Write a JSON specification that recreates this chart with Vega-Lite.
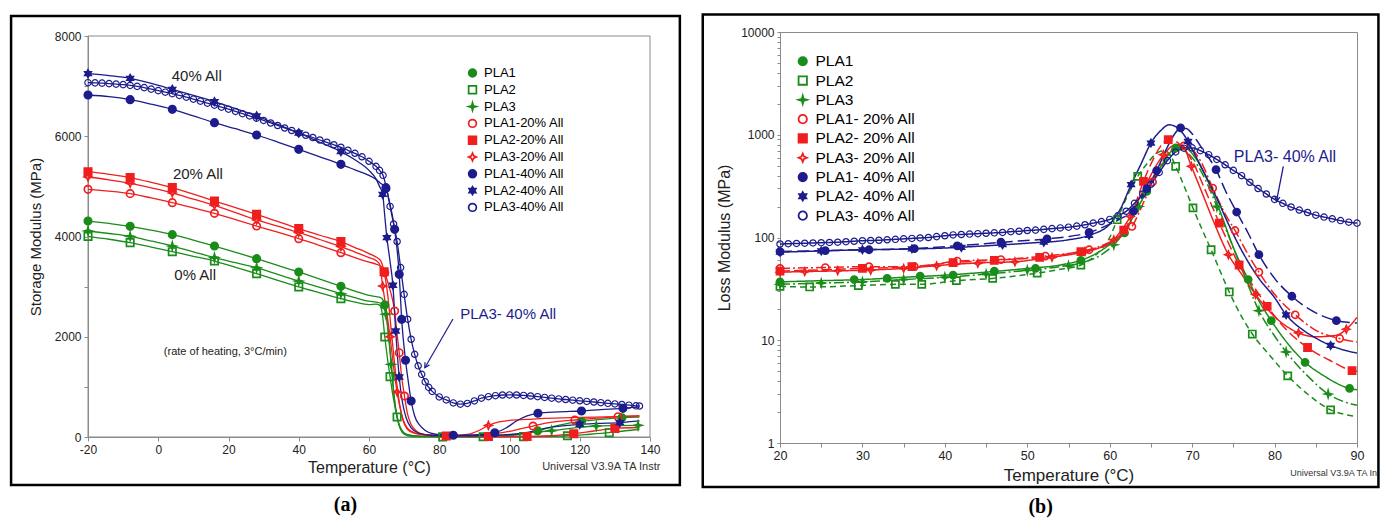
{
"$schema": "https://vega.github.io/schema/vega-lite/v6.json",
"padding": {"left": 9, "top": 12, "right": 0, "bottom": 0},
"spacing": 19,
"config": {
  "font": "Liberation Sans",
  "view": {"stroke": "#8a8a8a", "strokeWidth": 1},
  "axis": {"grid": false, "domainColor": "#8a8a8a", "tickColor": "#8a8a8a", "labelColor": "#222", "titleColor": "#222", "titleFontWeight": "normal", "labelFont": "Liberation Sans", "titleFont": "Liberation Sans", "labelOverlap": false, "labelFlush": false}
},
"datasets": {
"L": [
{"s":"PLA1","T":-20,"E":4309},{"s":"PLA1","T":-14,"E":4260},{"s":"PLA1","T":-8,"E":4203},{"s":"PLA1","T":-2,"E":4125},{"s":"PLA1","T":4,"E":4037},{"s":"PLA1","T":10,"E":3930},{"s":"PLA1","T":16,"E":3810},{"s":"PLA1","T":22,"E":3685},{"s":"PLA1","T":28,"E":3558},{"s":"PLA1","T":34,"E":3425},{"s":"PLA1","T":40,"E":3292},{"s":"PLA1","T":46,"E":3150},{"s":"PLA1","T":52,"E":3006},{"s":"PLA1","T":56,"E":2910},{"s":"PLA1","T":60,"E":2825},{"s":"PLA1","T":62,"E":2800},{"s":"PLA1","T":63.3,"E":2780},{"s":"PLA1","T":64,"E":2730},{"s":"PLA1","T":64.5,"E":2633},{"s":"PLA1","T":65.2,"E":2300},{"s":"PLA1","T":66,"E":1750},{"s":"PLA1","T":66.8,"E":1100},{"s":"PLA1","T":67.5,"E":600},{"s":"PLA1","T":68.5,"E":250},{"s":"PLA1","T":70,"E":80},{"s":"PLA1","T":72,"E":30},{"s":"PLA1","T":76,"E":12},{"s":"PLA1","T":85,"E":10},{"s":"PLA1","T":95,"E":15},{"s":"PLA1","T":100,"E":30},{"s":"PLA1","T":104,"E":65},{"s":"PLA1","T":108,"E":125},{"s":"PLA1","T":112,"E":200},{"s":"PLA1","T":116,"E":262},{"s":"PLA1","T":120.5,"E":310},{"s":"PLA1","T":126,"E":350},{"s":"PLA1","T":132,"E":385},{"s":"PLA1","T":137,"E":395},
{"s":"PLA2","T":-20,"E":4003},{"s":"PLA2","T":-14,"E":3945},{"s":"PLA2","T":-8,"E":3877},{"s":"PLA2","T":-2,"E":3790},{"s":"PLA2","T":4,"E":3697},{"s":"PLA2","T":10,"E":3605},{"s":"PLA2","T":16,"E":3511},{"s":"PLA2","T":22,"E":3385},{"s":"PLA2","T":28,"E":3259},{"s":"PLA2","T":34,"E":3125},{"s":"PLA2","T":40,"E":2993},{"s":"PLA2","T":46,"E":2875},{"s":"PLA2","T":52,"E":2760},{"s":"PLA2","T":56,"E":2690},{"s":"PLA2","T":60,"E":2640},{"s":"PLA2","T":62,"E":2650},{"s":"PLA2","T":63,"E":2630},{"s":"PLA2","T":63.8,"E":2450},{"s":"PLA2","T":64.5,"E":1995},{"s":"PLA2","T":65.2,"E":1600},{"s":"PLA2","T":66,"E":1204},{"s":"PLA2","T":67,"E":750},{"s":"PLA2","T":68,"E":399},{"s":"PLA2","T":69,"E":150},{"s":"PLA2","T":70,"E":55},{"s":"PLA2","T":72,"E":15},{"s":"PLA2","T":76,"E":5},{"s":"PLA2","T":81,"E":3},{"s":"PLA2","T":92.5,"E":5},{"s":"PLA2","T":104,"E":8},{"s":"PLA2","T":110,"E":12},{"s":"PLA2","T":116.5,"E":25},{"s":"PLA2","T":122,"E":50},{"s":"PLA2","T":128.4,"E":86},{"s":"PLA2","T":133,"E":125},{"s":"PLA2","T":137,"E":150},
{"s":"PLA3","T":-20,"E":4110},{"s":"PLA3","T":-14,"E":4060},{"s":"PLA3","T":-8,"E":4003},{"s":"PLA3","T":-2,"E":3910},{"s":"PLA3","T":4,"E":3810},{"s":"PLA3","T":10,"E":3695},{"s":"PLA3","T":16,"E":3578},{"s":"PLA3","T":22,"E":3478},{"s":"PLA3","T":28,"E":3378},{"s":"PLA3","T":34,"E":3245},{"s":"PLA3","T":40,"E":3112},{"s":"PLA3","T":46,"E":2985},{"s":"PLA3","T":52,"E":2860},{"s":"PLA3","T":56,"E":2780},{"s":"PLA3","T":60,"E":2710},{"s":"PLA3","T":62,"E":2690},{"s":"PLA3","T":63.3,"E":2670},{"s":"PLA3","T":64,"E":2600},{"s":"PLA3","T":64.8,"E":2450},{"s":"PLA3","T":65.5,"E":2050},{"s":"PLA3","T":66.3,"E":1450},{"s":"PLA3","T":67,"E":900},{"s":"PLA3","T":68,"E":400},{"s":"PLA3","T":69.5,"E":120},{"s":"PLA3","T":71,"E":40},{"s":"PLA3","T":75,"E":12},{"s":"PLA3","T":85,"E":10},{"s":"PLA3","T":95,"E":20},{"s":"PLA3","T":100,"E":40},{"s":"PLA3","T":105,"E":80},{"s":"PLA3","T":112,"E":125},{"s":"PLA3","T":118,"E":175},{"s":"PLA3","T":124.7,"E":219},{"s":"PLA3","T":130,"E":228},{"s":"PLA3","T":137,"E":233},
{"s":"PLA1-20% All","T":-20,"E":4941},{"s":"PLA1-20% All","T":-14,"E":4905},{"s":"PLA1-20% All","T":-8,"E":4855},{"s":"PLA1-20% All","T":-2,"E":4770},{"s":"PLA1-20% All","T":4,"E":4675},{"s":"PLA1-20% All","T":10,"E":4570},{"s":"PLA1-20% All","T":16,"E":4462},{"s":"PLA1-20% All","T":22,"E":4335},{"s":"PLA1-20% All","T":28,"E":4209},{"s":"PLA1-20% All","T":34,"E":4085},{"s":"PLA1-20% All","T":40,"E":3957},{"s":"PLA1-20% All","T":46,"E":3820},{"s":"PLA1-20% All","T":52,"E":3677},{"s":"PLA1-20% All","T":56,"E":3580},{"s":"PLA1-20% All","T":60,"E":3490},{"s":"PLA1-20% All","T":62,"E":3450},{"s":"PLA1-20% All","T":63.5,"E":3400},{"s":"PLA1-20% All","T":64.5,"E":3278},{"s":"PLA1-20% All","T":65.5,"E":3050},{"s":"PLA1-20% All","T":66.5,"E":2800},{"s":"PLA1-20% All","T":67.3,"E":2514},{"s":"PLA1-20% All","T":68,"E":2050},{"s":"PLA1-20% All","T":68.6,"E":1682},{"s":"PLA1-20% All","T":69.3,"E":1200},{"s":"PLA1-20% All","T":70.1,"E":818},{"s":"PLA1-20% All","T":71,"E":450},{"s":"PLA1-20% All","T":72,"E":250},{"s":"PLA1-20% All","T":73.5,"E":120},{"s":"PLA1-20% All","T":75,"E":60},{"s":"PLA1-20% All","T":78,"E":30},{"s":"PLA1-20% All","T":82,"E":25},{"s":"PLA1-20% All","T":86,"E":20},{"s":"PLA1-20% All","T":90,"E":30},{"s":"PLA1-20% All","T":95,"E":60},{"s":"PLA1-20% All","T":100,"E":110},{"s":"PLA1-20% All","T":103,"E":160},{"s":"PLA1-20% All","T":106.7,"E":219},{"s":"PLA1-20% All","T":110,"E":270},{"s":"PLA1-20% All","T":114,"E":310},{"s":"PLA1-20% All","T":118.6,"E":339},{"s":"PLA1-20% All","T":125,"E":375},{"s":"PLA1-20% All","T":130.9,"E":405},{"s":"PLA1-20% All","T":137,"E":420},
{"s":"PLA2-20% All","T":-20,"E":5293},{"s":"PLA2-20% All","T":-14,"E":5240},{"s":"PLA2-20% All","T":-8,"E":5174},{"s":"PLA2-20% All","T":-2,"E":5080},{"s":"PLA2-20% All","T":4,"E":4974},{"s":"PLA2-20% All","T":10,"E":4845},{"s":"PLA2-20% All","T":16,"E":4708},{"s":"PLA2-20% All","T":22,"E":4575},{"s":"PLA2-20% All","T":28,"E":4442},{"s":"PLA2-20% All","T":34,"E":4300},{"s":"PLA2-20% All","T":40,"E":4156},{"s":"PLA2-20% All","T":46,"E":4025},{"s":"PLA2-20% All","T":52,"E":3897},{"s":"PLA2-20% All","T":56,"E":3780},{"s":"PLA2-20% All","T":60,"E":3660},{"s":"PLA2-20% All","T":62,"E":3590},{"s":"PLA2-20% All","T":63.3,"E":3520},{"s":"PLA2-20% All","T":64.3,"E":3298},{"s":"PLA2-20% All","T":65.3,"E":2850},{"s":"PLA2-20% All","T":66.3,"E":2150},{"s":"PLA2-20% All","T":67.3,"E":1450},{"s":"PLA2-20% All","T":68.3,"E":850},{"s":"PLA2-20% All","T":69.5,"E":380},{"s":"PLA2-20% All","T":71,"E":150},{"s":"PLA2-20% All","T":73,"E":70},{"s":"PLA2-20% All","T":76,"E":40},{"s":"PLA2-20% All","T":82,"E":20},{"s":"PLA2-20% All","T":88,"E":15},{"s":"PLA2-20% All","T":94,"E":10},{"s":"PLA2-20% All","T":105,"E":10},{"s":"PLA2-20% All","T":112,"E":25},{"s":"PLA2-20% All","T":118.3,"E":66},{"s":"PLA2-20% All","T":124,"E":120},{"s":"PLA2-20% All","T":130,"E":173},{"s":"PLA2-20% All","T":137,"E":190},
{"s":"PLA3-20% All","T":-20,"E":5187},{"s":"PLA3-20% All","T":-14,"E":5130},{"s":"PLA3-20% All","T":-8,"E":5060},{"s":"PLA3-20% All","T":-2,"E":4970},{"s":"PLA3-20% All","T":4,"E":4870},{"s":"PLA3-20% All","T":10,"E":4745},{"s":"PLA3-20% All","T":16,"E":4620},{"s":"PLA3-20% All","T":22,"E":4475},{"s":"PLA3-20% All","T":28,"E":4330},{"s":"PLA3-20% All","T":34,"E":4205},{"s":"PLA3-20% All","T":40,"E":4080},{"s":"PLA3-20% All","T":46,"E":3940},{"s":"PLA3-20% All","T":52,"E":3800},{"s":"PLA3-20% All","T":56,"E":3690},{"s":"PLA3-20% All","T":60,"E":3580},{"s":"PLA3-20% All","T":62,"E":3520},{"s":"PLA3-20% All","T":63,"E":3450},{"s":"PLA3-20% All","T":63.9,"E":3012},{"s":"PLA3-20% All","T":65,"E":2500},{"s":"PLA3-20% All","T":66,"E":2000},{"s":"PLA3-20% All","T":67,"E":1400},{"s":"PLA3-20% All","T":68,"E":900},{"s":"PLA3-20% All","T":69.5,"E":400},{"s":"PLA3-20% All","T":71,"E":170},{"s":"PLA3-20% All","T":73,"E":80},{"s":"PLA3-20% All","T":76,"E":45},{"s":"PLA3-20% All","T":80,"E":35},{"s":"PLA3-20% All","T":84,"E":30},{"s":"PLA3-20% All","T":88,"E":50},{"s":"PLA3-20% All","T":91,"E":120},{"s":"PLA3-20% All","T":94,"E":230},{"s":"PLA3-20% All","T":97,"E":300},{"s":"PLA3-20% All","T":100,"E":330},{"s":"PLA3-20% All","T":105,"E":350},{"s":"PLA3-20% All","T":110,"E":370},{"s":"PLA3-20% All","T":120,"E":390},{"s":"PLA3-20% All","T":130,"E":405},{"s":"PLA3-20% All","T":137,"E":420},
{"s":"PLA1-40% All","T":-20,"E":6823},{"s":"PLA1-40% All","T":-14,"E":6790},{"s":"PLA1-40% All","T":-8,"E":6730},{"s":"PLA1-40% All","T":-2,"E":6640},{"s":"PLA1-40% All","T":4,"E":6537},{"s":"PLA1-40% All","T":10,"E":6405},{"s":"PLA1-40% All","T":16,"E":6271},{"s":"PLA1-40% All","T":22,"E":6150},{"s":"PLA1-40% All","T":28,"E":6025},{"s":"PLA1-40% All","T":34,"E":5885},{"s":"PLA1-40% All","T":40,"E":5739},{"s":"PLA1-40% All","T":46,"E":5590},{"s":"PLA1-40% All","T":52,"E":5440},{"s":"PLA1-40% All","T":56,"E":5330},{"s":"PLA1-40% All","T":60,"E":5220},{"s":"PLA1-40% All","T":62,"E":5140},{"s":"PLA1-40% All","T":63.5,"E":5050},{"s":"PLA1-40% All","T":64.8,"E":4974},{"s":"PLA1-40% All","T":65.8,"E":4700},{"s":"PLA1-40% All","T":67.3,"E":4143},{"s":"PLA1-40% All","T":68.6,"E":3245},{"s":"PLA1-40% All","T":69.3,"E":2347},{"s":"PLA1-40% All","T":70.4,"E":1530},{"s":"PLA1-40% All","T":71.2,"E":1100},{"s":"PLA1-40% All","T":72,"E":718},{"s":"PLA1-40% All","T":73,"E":420},{"s":"PLA1-40% All","T":74.5,"E":230},{"s":"PLA1-40% All","T":76,"E":130},{"s":"PLA1-40% All","T":78,"E":70},{"s":"PLA1-40% All","T":80,"E":45},{"s":"PLA1-40% All","T":84,"E":34},{"s":"PLA1-40% All","T":90,"E":40},{"s":"PLA1-40% All","T":95.8,"E":86},{"s":"PLA1-40% All","T":99,"E":180},{"s":"PLA1-40% All","T":102,"E":319},{"s":"PLA1-40% All","T":105,"E":420},{"s":"PLA1-40% All","T":108.1,"E":473},{"s":"PLA1-40% All","T":114,"E":500},{"s":"PLA1-40% All","T":120.5,"E":519},{"s":"PLA1-40% All","T":126,"E":545},{"s":"PLA1-40% All","T":132.3,"E":572},{"s":"PLA1-40% All","T":137,"E":600},
{"s":"PLA2-40% All","T":-20,"E":7249},{"s":"PLA2-40% All","T":-14,"E":7210},{"s":"PLA2-40% All","T":-8,"E":7155},{"s":"PLA2-40% All","T":-2,"E":7055},{"s":"PLA2-40% All","T":4,"E":6936},{"s":"PLA2-40% All","T":10,"E":6815},{"s":"PLA2-40% All","T":16,"E":6690},{"s":"PLA2-40% All","T":22,"E":6550},{"s":"PLA2-40% All","T":28,"E":6404},{"s":"PLA2-40% All","T":34,"E":6235},{"s":"PLA2-40% All","T":40,"E":6065},{"s":"PLA2-40% All","T":46,"E":5880},{"s":"PLA2-40% All","T":52,"E":5693},{"s":"PLA2-40% All","T":56,"E":5530},{"s":"PLA2-40% All","T":60,"E":5320},{"s":"PLA2-40% All","T":62,"E":5150},{"s":"PLA2-40% All","T":63,"E":5000},{"s":"PLA2-40% All","T":63.9,"E":4841},{"s":"PLA2-40% All","T":64.5,"E":4400},{"s":"PLA2-40% All","T":65.1,"E":3977},{"s":"PLA2-40% All","T":66,"E":3500},{"s":"PLA2-40% All","T":66.8,"E":3026},{"s":"PLA2-40% All","T":67.6,"E":2115},{"s":"PLA2-40% All","T":68.6,"E":1197},{"s":"PLA2-40% All","T":69.5,"E":700},{"s":"PLA2-40% All","T":70.5,"E":400},{"s":"PLA2-40% All","T":72,"E":180},{"s":"PLA2-40% All","T":74,"E":80},{"s":"PLA2-40% All","T":78,"E":30},{"s":"PLA2-40% All","T":85,"E":25},{"s":"PLA2-40% All","T":92,"E":30},{"s":"PLA2-40% All","T":97,"E":40},{"s":"PLA2-40% All","T":102,"E":60},{"s":"PLA2-40% All","T":106,"E":100},{"s":"PLA2-40% All","T":110,"E":170},{"s":"PLA2-40% All","T":115,"E":220},{"s":"PLA2-40% All","T":120,"E":253},{"s":"PLA2-40% All","T":125,"E":270},{"s":"PLA2-40% All","T":131.4,"E":286},{"s":"PLA2-40% All","T":137,"E":320},
{"s":"PLA3-40% All","T":-20,"E":7069},{"s":"PLA3-40% All","T":-18,"E":7065},{"s":"PLA3-40% All","T":-16,"E":7060},{"s":"PLA3-40% All","T":-14,"E":7050},{"s":"PLA3-40% All","T":-12,"E":7040},{"s":"PLA3-40% All","T":-10,"E":7030},{"s":"PLA3-40% All","T":-8,"E":7015},{"s":"PLA3-40% All","T":-6,"E":6995},{"s":"PLA3-40% All","T":-4,"E":6970},{"s":"PLA3-40% All","T":-2,"E":6940},{"s":"PLA3-40% All","T":0,"E":6910},{"s":"PLA3-40% All","T":2,"E":6880},{"s":"PLA3-40% All","T":4,"E":6850},{"s":"PLA3-40% All","T":6,"E":6815},{"s":"PLA3-40% All","T":8,"E":6780},{"s":"PLA3-40% All","T":10,"E":6740},{"s":"PLA3-40% All","T":12,"E":6700},{"s":"PLA3-40% All","T":14,"E":6660},{"s":"PLA3-40% All","T":16,"E":6620},{"s":"PLA3-40% All","T":18,"E":6580},{"s":"PLA3-40% All","T":20,"E":6540},{"s":"PLA3-40% All","T":22,"E":6495},{"s":"PLA3-40% All","T":24,"E":6450},{"s":"PLA3-40% All","T":26,"E":6405},{"s":"PLA3-40% All","T":28,"E":6360},{"s":"PLA3-40% All","T":30,"E":6315},{"s":"PLA3-40% All","T":32,"E":6265},{"s":"PLA3-40% All","T":34,"E":6215},{"s":"PLA3-40% All","T":36,"E":6165},{"s":"PLA3-40% All","T":38,"E":6115},{"s":"PLA3-40% All","T":40,"E":6065},{"s":"PLA3-40% All","T":42,"E":6020},{"s":"PLA3-40% All","T":44,"E":5975},{"s":"PLA3-40% All","T":46,"E":5925},{"s":"PLA3-40% All","T":48,"E":5880},{"s":"PLA3-40% All","T":50,"E":5830},{"s":"PLA3-40% All","T":52,"E":5780},{"s":"PLA3-40% All","T":54,"E":5720},{"s":"PLA3-40% All","T":56,"E":5660},{"s":"PLA3-40% All","T":58,"E":5590},{"s":"PLA3-40% All","T":60,"E":5500},{"s":"PLA3-40% All","T":62,"E":5400},{"s":"PLA3-40% All","T":63,"E":5320},{"s":"PLA3-40% All","T":64,"E":5220},{"s":"PLA3-40% All","T":65,"E":4950},{"s":"PLA3-40% All","T":66,"E":4600},{"s":"PLA3-40% All","T":67,"E":4250},{"s":"PLA3-40% All","T":68,"E":3900},{"s":"PLA3-40% All","T":69,"E":3380},{"s":"PLA3-40% All","T":70,"E":2846},{"s":"PLA3-40% All","T":71,"E":2350},{"s":"PLA3-40% All","T":72,"E":1950},{"s":"PLA3-40% All","T":73,"E":1650},{"s":"PLA3-40% All","T":74,"E":1420},{"s":"PLA3-40% All","T":75,"E":1250},{"s":"PLA3-40% All","T":76,"E":1100},{"s":"PLA3-40% All","T":77,"E":990},{"s":"PLA3-40% All","T":78,"E":910},{"s":"PLA3-40% All","T":80,"E":800},{"s":"PLA3-40% All","T":82,"E":740},{"s":"PLA3-40% All","T":84,"E":680},{"s":"PLA3-40% All","T":86,"E":655},{"s":"PLA3-40% All","T":88,"E":670},{"s":"PLA3-40% All","T":90,"E":720},{"s":"PLA3-40% All","T":92,"E":775},{"s":"PLA3-40% All","T":94,"E":805},{"s":"PLA3-40% All","T":96,"E":825},{"s":"PLA3-40% All","T":98,"E":838},{"s":"PLA3-40% All","T":100,"E":840},{"s":"PLA3-40% All","T":102,"E":838},{"s":"PLA3-40% All","T":104,"E":830},{"s":"PLA3-40% All","T":106,"E":818},{"s":"PLA3-40% All","T":108,"E":805},{"s":"PLA3-40% All","T":110,"E":790},{"s":"PLA3-40% All","T":112,"E":775},{"s":"PLA3-40% All","T":114,"E":760},{"s":"PLA3-40% All","T":116,"E":748},{"s":"PLA3-40% All","T":118,"E":735},{"s":"PLA3-40% All","T":120,"E":722},{"s":"PLA3-40% All","T":122,"E":710},{"s":"PLA3-40% All","T":124,"E":698},{"s":"PLA3-40% All","T":126,"E":685},{"s":"PLA3-40% All","T":128,"E":672},{"s":"PLA3-40% All","T":130,"E":660},{"s":"PLA3-40% All","T":132,"E":648},{"s":"PLA3-40% All","T":134,"E":635},{"s":"PLA3-40% All","T":136,"E":622},{"s":"PLA3-40% All","T":137,"E":618}
],
"LM": [
{"s":"PLA1","T":-20,"E":4309},{"s":"PLA1","T":-8,"E":4203},{"s":"PLA1","T":4,"E":4037},{"s":"PLA1","T":16,"E":3810},{"s":"PLA1","T":28,"E":3558},{"s":"PLA1","T":40,"E":3292},{"s":"PLA1","T":52,"E":3006},{"s":"PLA1","T":64.5,"E":2633},{"s":"PLA1","T":108,"E":125},{"s":"PLA1","T":120.5,"E":310},{"s":"PLA1","T":132,"E":385},
{"s":"PLA2","T":-20,"E":4003},{"s":"PLA2","T":-8,"E":3877},{"s":"PLA2","T":4,"E":3697},{"s":"PLA2","T":16,"E":3511},{"s":"PLA2","T":28,"E":3259},{"s":"PLA2","T":40,"E":2993},{"s":"PLA2","T":52,"E":2760},{"s":"PLA2","T":64.5,"E":1995},{"s":"PLA2","T":66,"E":1204},{"s":"PLA2","T":68,"E":399},{"s":"PLA2","T":81,"E":3},{"s":"PLA2","T":92.5,"E":5},{"s":"PLA2","T":104,"E":8},{"s":"PLA2","T":116.5,"E":25},{"s":"PLA2","T":128.4,"E":86},
{"s":"PLA3","T":-20,"E":4110},{"s":"PLA3","T":-8,"E":4003},{"s":"PLA3","T":4,"E":3810},{"s":"PLA3","T":16,"E":3578},{"s":"PLA3","T":28,"E":3378},{"s":"PLA3","T":40,"E":3112},{"s":"PLA3","T":52,"E":2860},{"s":"PLA3","T":64.8,"E":2450},{"s":"PLA3","T":66.3,"E":1450},{"s":"PLA3","T":112,"E":125},{"s":"PLA3","T":124.7,"E":219},{"s":"PLA3","T":136.6,"E":233},
{"s":"PLA1-20% All","T":-20,"E":4941},{"s":"PLA1-20% All","T":-8,"E":4855},{"s":"PLA1-20% All","T":4,"E":4675},{"s":"PLA1-20% All","T":16,"E":4462},{"s":"PLA1-20% All","T":28,"E":4209},{"s":"PLA1-20% All","T":40,"E":3957},{"s":"PLA1-20% All","T":52,"E":3677},{"s":"PLA1-20% All","T":64.5,"E":3278},{"s":"PLA1-20% All","T":67.3,"E":2514},{"s":"PLA1-20% All","T":68.6,"E":1682},{"s":"PLA1-20% All","T":70.1,"E":818},{"s":"PLA1-20% All","T":106.7,"E":219},{"s":"PLA1-20% All","T":118.6,"E":339},{"s":"PLA1-20% All","T":130.9,"E":405},
{"s":"PLA2-20% All","T":-20,"E":5293},{"s":"PLA2-20% All","T":-8,"E":5174},{"s":"PLA2-20% All","T":4,"E":4974},{"s":"PLA2-20% All","T":16,"E":4708},{"s":"PLA2-20% All","T":28,"E":4442},{"s":"PLA2-20% All","T":40,"E":4156},{"s":"PLA2-20% All","T":52,"E":3897},{"s":"PLA2-20% All","T":64.3,"E":3298},{"s":"PLA2-20% All","T":82,"E":20},{"s":"PLA2-20% All","T":94,"E":10},{"s":"PLA2-20% All","T":105,"E":10},{"s":"PLA2-20% All","T":118.3,"E":66},{"s":"PLA2-20% All","T":130,"E":173},
{"s":"PLA3-20% All","T":-20,"E":5187},{"s":"PLA3-20% All","T":-8,"E":5060},{"s":"PLA3-20% All","T":4,"E":4870},{"s":"PLA3-20% All","T":16,"E":4620},{"s":"PLA3-20% All","T":28,"E":4330},{"s":"PLA3-20% All","T":40,"E":4080},{"s":"PLA3-20% All","T":52,"E":3800},{"s":"PLA3-20% All","T":63.9,"E":3012},{"s":"PLA3-20% All","T":66,"E":2000},{"s":"PLA3-20% All","T":68,"E":900},{"s":"PLA3-20% All","T":94,"E":230},
{"s":"PLA1-40% All","T":-20,"E":6823},{"s":"PLA1-40% All","T":-8,"E":6730},{"s":"PLA1-40% All","T":4,"E":6537},{"s":"PLA1-40% All","T":16,"E":6271},{"s":"PLA1-40% All","T":28,"E":6025},{"s":"PLA1-40% All","T":40,"E":5739},{"s":"PLA1-40% All","T":52,"E":5440},{"s":"PLA1-40% All","T":64.8,"E":4974},{"s":"PLA1-40% All","T":67.3,"E":4143},{"s":"PLA1-40% All","T":68.6,"E":3245},{"s":"PLA1-40% All","T":69.3,"E":2347},{"s":"PLA1-40% All","T":70.4,"E":1530},{"s":"PLA1-40% All","T":72,"E":718},{"s":"PLA1-40% All","T":84,"E":34},{"s":"PLA1-40% All","T":95.8,"E":86},{"s":"PLA1-40% All","T":108.1,"E":473},{"s":"PLA1-40% All","T":120.5,"E":519},{"s":"PLA1-40% All","T":132.3,"E":572},
{"s":"PLA2-40% All","T":-20,"E":7249},{"s":"PLA2-40% All","T":-8,"E":7155},{"s":"PLA2-40% All","T":4,"E":6936},{"s":"PLA2-40% All","T":16,"E":6690},{"s":"PLA2-40% All","T":28,"E":6404},{"s":"PLA2-40% All","T":40,"E":6065},{"s":"PLA2-40% All","T":52,"E":5693},{"s":"PLA2-40% All","T":63.9,"E":4841},{"s":"PLA2-40% All","T":65.1,"E":3977},{"s":"PLA2-40% All","T":66.8,"E":3026},{"s":"PLA2-40% All","T":67.6,"E":2115},{"s":"PLA2-40% All","T":68.6,"E":1197},{"s":"PLA2-40% All","T":120,"E":253},{"s":"PLA2-40% All","T":131.4,"E":286}
],
"R": [
{"s":"PLA1","T":20,"E":37},{"s":"PLA1","T":25,"E":38},{"s":"PLA1","T":30,"E":39},{"s":"PLA1","T":35,"E":41},{"s":"PLA1","T":40,"E":43},{"s":"PLA1","T":45,"E":46},{"s":"PLA1","T":50,"E":50},{"s":"PLA1","T":54,"E":54},{"s":"PLA1","T":57,"E":62},{"s":"PLA1","T":59,"E":75},{"s":"PLA1","T":60.5,"E":92},{"s":"PLA1","T":61.8,"E":111},{"s":"PLA1","T":63,"E":170},{"s":"PLA1","T":64.5,"E":281},{"s":"PLA1","T":66,"E":460},{"s":"PLA1","T":67,"E":620},{"s":"PLA1","T":68,"E":743},{"s":"PLA1","T":68.7,"E":760},{"s":"PLA1","T":69.5,"E":720},{"s":"PLA1","T":70.5,"E":580},{"s":"PLA1","T":72,"E":340},{"s":"PLA1","T":73.5,"E":170},{"s":"PLA1","T":75,"E":80},{"s":"PLA1","T":76.8,"E":39},{"s":"PLA1","T":78,"E":25},{"s":"PLA1","T":79.6,"E":15.5},{"s":"PLA1","T":81.5,"E":9.5},{"s":"PLA1","T":83.7,"E":6.1},{"s":"PLA1","T":86,"E":4.5},{"s":"PLA1","T":89.1,"E":3.4},{"s":"PLA1","T":90,"E":3.3},
{"s":"PLA2","T":20,"E":33.5},{"s":"PLA2","T":23.6,"E":33},{"s":"PLA2","T":29.5,"E":34},{"s":"PLA2","T":34,"E":35},{"s":"PLA2","T":37.2,"E":35},{"s":"PLA2","T":41.4,"E":38},{"s":"PLA2","T":45.8,"E":40},{"s":"PLA2","T":51.2,"E":45},{"s":"PLA2","T":54,"E":49},{"s":"PLA2","T":56.5,"E":54},{"s":"PLA2","T":58.5,"E":70},{"s":"PLA2","T":60,"E":100},{"s":"PLA2","T":60.9,"E":149},{"s":"PLA2","T":62,"E":240},{"s":"PLA2","T":63.4,"E":394},{"s":"PLA2","T":64.5,"E":520},{"s":"PLA2","T":65.5,"E":640},{"s":"PLA2","T":66.6,"E":701},{"s":"PLA2","T":67.3,"E":640},{"s":"PLA2","T":68,"E":493},{"s":"PLA2","T":69,"E":320},{"s":"PLA2","T":70.1,"E":194},{"s":"PLA2","T":71.2,"E":120},{"s":"PLA2","T":72.3,"E":76},{"s":"PLA2","T":73.5,"E":45},{"s":"PLA2","T":74.5,"E":29.5},{"s":"PLA2","T":76,"E":17},{"s":"PLA2","T":77.3,"E":11.5},{"s":"PLA2","T":79.5,"E":7},{"s":"PLA2","T":81.6,"E":4.5},{"s":"PLA2","T":84,"E":3},{"s":"PLA2","T":86.8,"E":2.1},{"s":"PLA2","T":88.5,"E":1.9},{"s":"PLA2","T":90,"E":1.8},
{"s":"PLA3","T":20,"E":35},{"s":"PLA3","T":25,"E":36},{"s":"PLA3","T":30,"E":37},{"s":"PLA3","T":35,"E":39},{"s":"PLA3","T":40,"E":41},{"s":"PLA3","T":45,"E":44},{"s":"PLA3","T":50,"E":48},{"s":"PLA3","T":54,"E":52},{"s":"PLA3","T":57,"E":58},{"s":"PLA3","T":59,"E":68},{"s":"PLA3","T":60.5,"E":85},{"s":"PLA3","T":62,"E":120},{"s":"PLA3","T":63.5,"E":200},{"s":"PLA3","T":65,"E":330},{"s":"PLA3","T":66.5,"E":520},{"s":"PLA3","T":67.5,"E":650},{"s":"PLA3","T":68.3,"E":720},{"s":"PLA3","T":69,"E":700},{"s":"PLA3","T":70,"E":600},{"s":"PLA3","T":71.5,"E":380},{"s":"PLA3","T":73,"E":200},{"s":"PLA3","T":74.5,"E":100},{"s":"PLA3","T":76,"E":50},{"s":"PLA3","T":78.1,"E":19.4},{"s":"PLA3","T":80,"E":11},{"s":"PLA3","T":81.4,"E":7.7},{"s":"PLA3","T":84,"E":4.5},{"s":"PLA3","T":86.5,"E":3.0},{"s":"PLA3","T":88,"E":2.6},{"s":"PLA3","T":90,"E":2.33},
{"s":"PLA1- 20% All","T":20,"E":50},{"s":"PLA1- 20% All","T":25,"E":51},{"s":"PLA1- 20% All","T":30.8,"E":52},{"s":"PLA1- 20% All","T":36.3,"E":52},{"s":"PLA1- 20% All","T":41.5,"E":59},{"s":"PLA1- 20% All","T":46.8,"E":61},{"s":"PLA1- 20% All","T":52.2,"E":66},{"s":"PLA1- 20% All","T":55,"E":70},{"s":"PLA1- 20% All","T":57.5,"E":76},{"s":"PLA1- 20% All","T":60,"E":90},{"s":"PLA1- 20% All","T":61.5,"E":105},{"s":"PLA1- 20% All","T":62.7,"E":128},{"s":"PLA1- 20% All","T":64,"E":210},{"s":"PLA1- 20% All","T":65.2,"E":347},{"s":"PLA1- 20% All","T":66,"E":480},{"s":"PLA1- 20% All","T":67,"E":640},{"s":"PLA1- 20% All","T":68.2,"E":770},{"s":"PLA1- 20% All","T":69,"E":780},{"s":"PLA1- 20% All","T":70,"E":720},{"s":"PLA1- 20% All","T":71,"E":560},{"s":"PLA1- 20% All","T":72.5,"E":303},{"s":"PLA1- 20% All","T":74,"E":170},{"s":"PLA1- 20% All","T":75.2,"E":117},{"s":"PLA1- 20% All","T":76.5,"E":75},{"s":"PLA1- 20% All","T":78.1,"E":46},{"s":"PLA1- 20% All","T":80,"E":28},{"s":"PLA1- 20% All","T":82.5,"E":17.7},{"s":"PLA1- 20% All","T":85,"E":12.5},{"s":"PLA1- 20% All","T":87.9,"E":10.4},{"s":"PLA1- 20% All","T":90,"E":9.6},
{"s":"PLA2- 20% All","T":20,"E":47},{"s":"PLA2- 20% All","T":25,"E":48.5},{"s":"PLA2- 20% All","T":30,"E":50},{"s":"PLA2- 20% All","T":36,"E":52},{"s":"PLA2- 20% All","T":41,"E":57},{"s":"PLA2- 20% All","T":46,"E":60},{"s":"PLA2- 20% All","T":51.5,"E":64},{"s":"PLA2- 20% All","T":56.5,"E":73},{"s":"PLA2- 20% All","T":59,"E":82},{"s":"PLA2- 20% All","T":60.5,"E":95},{"s":"PLA2- 20% All","T":62,"E":125},{"s":"PLA2- 20% All","T":63,"E":200},{"s":"PLA2- 20% All","T":64.1,"E":352},{"s":"PLA2- 20% All","T":65.2,"E":560},{"s":"PLA2- 20% All","T":66.2,"E":780},{"s":"PLA2- 20% All","T":67.1,"E":896},{"s":"PLA2- 20% All","T":67.8,"E":880},{"s":"PLA2- 20% All","T":68.8,"E":760},{"s":"PLA2- 20% All","T":70,"E":560},{"s":"PLA2- 20% All","T":71.5,"E":300},{"s":"PLA2- 20% All","T":73.3,"E":138},{"s":"PLA2- 20% All","T":74.5,"E":85},{"s":"PLA2- 20% All","T":75.7,"E":54},{"s":"PLA2- 20% All","T":77.5,"E":33},{"s":"PLA2- 20% All","T":79.1,"E":21.4},{"s":"PLA2- 20% All","T":81.5,"E":12.5},{"s":"PLA2- 20% All","T":84,"E":8.5},{"s":"PLA2- 20% All","T":87,"E":6.2},{"s":"PLA2- 20% All","T":89.4,"E":5.06},{"s":"PLA2- 20% All","T":90,"E":5},
{"s":"PLA3- 20% All","T":20,"E":46},{"s":"PLA3- 20% All","T":25,"E":47},{"s":"PLA3- 20% All","T":30,"E":48},{"s":"PLA3- 20% All","T":35,"E":50},{"s":"PLA3- 20% All","T":40,"E":54},{"s":"PLA3- 20% All","T":45,"E":57},{"s":"PLA3- 20% All","T":48.5,"E":58},{"s":"PLA3- 20% All","T":52,"E":63},{"s":"PLA3- 20% All","T":56,"E":70},{"s":"PLA3- 20% All","T":58.5,"E":78},{"s":"PLA3- 20% All","T":60,"E":88},{"s":"PLA3- 20% All","T":61.5,"E":120},{"s":"PLA3- 20% All","T":62.5,"E":160},{"s":"PLA3- 20% All","T":64,"E":280},{"s":"PLA3- 20% All","T":65.5,"E":480},{"s":"PLA3- 20% All","T":66.8,"E":680},{"s":"PLA3- 20% All","T":68,"E":800},{"s":"PLA3- 20% All","T":68.8,"E":790},{"s":"PLA3- 20% All","T":69.9,"E":493},{"s":"PLA3- 20% All","T":71,"E":300},{"s":"PLA3- 20% All","T":72.5,"E":150},{"s":"PLA3- 20% All","T":74.4,"E":68},{"s":"PLA3- 20% All","T":76,"E":44},{"s":"PLA3- 20% All","T":77.7,"E":27.8},{"s":"PLA3- 20% All","T":80,"E":17},{"s":"PLA3- 20% All","T":82.9,"E":11.8},{"s":"PLA3- 20% All","T":85,"E":10.8},{"s":"PLA3- 20% All","T":87.5,"E":11.2},{"s":"PLA3- 20% All","T":88.7,"E":12.8},{"s":"PLA3- 20% All","T":90,"E":16.7},
{"s":"PLA1- 40% All","T":20,"E":73},{"s":"PLA1- 40% All","T":25,"E":74.5},{"s":"PLA1- 40% All","T":30.5,"E":76},{"s":"PLA1- 40% All","T":36,"E":78},{"s":"PLA1- 40% All","T":41.5,"E":83},{"s":"PLA1- 40% All","T":47,"E":90},{"s":"PLA1- 40% All","T":52.4,"E":97},{"s":"PLA1- 40% All","T":55,"E":102},{"s":"PLA1- 40% All","T":57.5,"E":112},{"s":"PLA1- 40% All","T":60,"E":135},{"s":"PLA1- 40% All","T":61.5,"E":155},{"s":"PLA1- 40% All","T":62.9,"E":180},{"s":"PLA1- 40% All","T":63.7,"E":230},{"s":"PLA1- 40% All","T":64.5,"E":299},{"s":"PLA1- 40% All","T":65.7,"E":448},{"s":"PLA1- 40% All","T":67,"E":760},{"s":"PLA1- 40% All","T":68,"E":1050},{"s":"PLA1- 40% All","T":68.6,"E":1164},{"s":"PLA1- 40% All","T":69.3,"E":1150},{"s":"PLA1- 40% All","T":70,"E":1020},{"s":"PLA1- 40% All","T":71,"E":780},{"s":"PLA1- 40% All","T":72,"E":600},{"s":"PLA1- 40% All","T":72.9,"E":457},{"s":"PLA1- 40% All","T":74,"E":290},{"s":"PLA1- 40% All","T":75.4,"E":177},{"s":"PLA1- 40% All","T":76.8,"E":110},{"s":"PLA1- 40% All","T":78.1,"E":68},{"s":"PLA1- 40% All","T":80,"E":40},{"s":"PLA1- 40% All","T":82.1,"E":26.8},{"s":"PLA1- 40% All","T":84,"E":20.5},{"s":"PLA1- 40% All","T":86,"E":17},{"s":"PLA1- 40% All","T":87.5,"E":15.5},{"s":"PLA1- 40% All","T":89,"E":14.9},{"s":"PLA1- 40% All","T":90,"E":14.7},
{"s":"PLA2- 40% All","T":20,"E":72},{"s":"PLA2- 40% All","T":25,"E":74},{"s":"PLA2- 40% All","T":30,"E":76},{"s":"PLA2- 40% All","T":35,"E":77},{"s":"PLA2- 40% All","T":40,"E":79},{"s":"PLA2- 40% All","T":45,"E":83},{"s":"PLA2- 40% All","T":50,"E":88},{"s":"PLA2- 40% All","T":55,"E":95},{"s":"PLA2- 40% All","T":57.5,"E":105},{"s":"PLA2- 40% All","T":60,"E":135},{"s":"PLA2- 40% All","T":61.3,"E":190},{"s":"PLA2- 40% All","T":62.6,"E":327},{"s":"PLA2- 40% All","T":63.8,"E":520},{"s":"PLA2- 40% All","T":65,"E":831},{"s":"PLA2- 40% All","T":66.2,"E":1100},{"s":"PLA2- 40% All","T":67.2,"E":1250},{"s":"PLA2- 40% All","T":68,"E":1200},{"s":"PLA2- 40% All","T":69,"E":1000},{"s":"PLA2- 40% All","T":70,"E":720},{"s":"PLA2- 40% All","T":71.5,"E":420},{"s":"PLA2- 40% All","T":73,"E":240},{"s":"PLA2- 40% All","T":74.5,"E":130},{"s":"PLA2- 40% All","T":76,"E":75},{"s":"PLA2- 40% All","T":78,"E":41},{"s":"PLA2- 40% All","T":80,"E":26},{"s":"PLA2- 40% All","T":81.4,"E":17.7},{"s":"PLA2- 40% All","T":83.5,"E":12.5},{"s":"PLA2- 40% All","T":85,"E":10.5},{"s":"PLA2- 40% All","T":86.8,"E":8.9},{"s":"PLA2- 40% All","T":88.5,"E":8},{"s":"PLA2- 40% All","T":90,"E":7.5},
{"s":"PLA3- 40% All","T":20,"E":86.5},{"s":"PLA3- 40% All","T":21,"E":87},{"s":"PLA3- 40% All","T":22,"E":87.5},{"s":"PLA3- 40% All","T":23,"E":88},{"s":"PLA3- 40% All","T":24,"E":88.5},{"s":"PLA3- 40% All","T":25,"E":89},{"s":"PLA3- 40% All","T":26,"E":89.5},{"s":"PLA3- 40% All","T":27,"E":90},{"s":"PLA3- 40% All","T":28,"E":91},{"s":"PLA3- 40% All","T":29,"E":92},{"s":"PLA3- 40% All","T":30,"E":93},{"s":"PLA3- 40% All","T":31,"E":93.5},{"s":"PLA3- 40% All","T":32,"E":94},{"s":"PLA3- 40% All","T":33,"E":95},{"s":"PLA3- 40% All","T":34,"E":96},{"s":"PLA3- 40% All","T":35,"E":97},{"s":"PLA3- 40% All","T":36,"E":98},{"s":"PLA3- 40% All","T":37,"E":99},{"s":"PLA3- 40% All","T":38,"E":100},{"s":"PLA3- 40% All","T":39,"E":102},{"s":"PLA3- 40% All","T":40,"E":104},{"s":"PLA3- 40% All","T":41,"E":106},{"s":"PLA3- 40% All","T":42,"E":107},{"s":"PLA3- 40% All","T":43,"E":108},{"s":"PLA3- 40% All","T":44,"E":109},{"s":"PLA3- 40% All","T":45,"E":110},{"s":"PLA3- 40% All","T":46,"E":111},{"s":"PLA3- 40% All","T":47,"E":112},{"s":"PLA3- 40% All","T":48,"E":114},{"s":"PLA3- 40% All","T":49,"E":115},{"s":"PLA3- 40% All","T":50,"E":117},{"s":"PLA3- 40% All","T":51,"E":118},{"s":"PLA3- 40% All","T":52,"E":120},{"s":"PLA3- 40% All","T":53,"E":122},{"s":"PLA3- 40% All","T":54,"E":124},{"s":"PLA3- 40% All","T":55,"E":126},{"s":"PLA3- 40% All","T":56,"E":129},{"s":"PLA3- 40% All","T":57,"E":133},{"s":"PLA3- 40% All","T":58,"E":138},{"s":"PLA3- 40% All","T":59,"E":143},{"s":"PLA3- 40% All","T":60,"E":150},{"s":"PLA3- 40% All","T":61,"E":163},{"s":"PLA3- 40% All","T":62,"E":180},{"s":"PLA3- 40% All","T":63,"E":215},{"s":"PLA3- 40% All","T":64,"E":265},{"s":"PLA3- 40% All","T":65,"E":330},{"s":"PLA3- 40% All","T":66,"E":430},{"s":"PLA3- 40% All","T":67,"E":560},{"s":"PLA3- 40% All","T":68,"E":680},{"s":"PLA3- 40% All","T":69,"E":740},{"s":"PLA3- 40% All","T":70,"E":745},{"s":"PLA3- 40% All","T":71,"E":700},{"s":"PLA3- 40% All","T":72,"E":640},{"s":"PLA3- 40% All","T":73,"E":575},{"s":"PLA3- 40% All","T":74,"E":510},{"s":"PLA3- 40% All","T":75,"E":450},{"s":"PLA3- 40% All","T":76,"E":400},{"s":"PLA3- 40% All","T":77,"E":345},{"s":"PLA3- 40% All","T":78,"E":300},{"s":"PLA3- 40% All","T":79,"E":265},{"s":"PLA3- 40% All","T":80,"E":235},{"s":"PLA3- 40% All","T":81,"E":215},{"s":"PLA3- 40% All","T":82,"E":198},{"s":"PLA3- 40% All","T":83,"E":185},{"s":"PLA3- 40% All","T":84,"E":175},{"s":"PLA3- 40% All","T":85,"E":165},{"s":"PLA3- 40% All","T":86,"E":158},{"s":"PLA3- 40% All","T":87,"E":152},{"s":"PLA3- 40% All","T":88,"E":146},{"s":"PLA3- 40% All","T":89,"E":141},{"s":"PLA3- 40% All","T":90,"E":138}
],
"RM": [
{"s":"PLA1","T":20,"E":37},{"s":"PLA1","T":29,"E":39},{"s":"PLA1","T":33,"E":40},{"s":"PLA1","T":37,"E":42},{"s":"PLA1","T":41,"E":43},{"s":"PLA1","T":46,"E":47},{"s":"PLA1","T":51,"E":50},{"s":"PLA1","T":56.5,"E":60},{"s":"PLA1","T":61.8,"E":111},{"s":"PLA1","T":64.5,"E":281},{"s":"PLA1","T":68,"E":743},{"s":"PLA1","T":76.8,"E":39},{"s":"PLA1","T":79.6,"E":15.5},{"s":"PLA1","T":83.7,"E":6.1},{"s":"PLA1","T":89.1,"E":3.4},
{"s":"PLA2","T":20,"E":33.5},{"s":"PLA2","T":23.6,"E":33},{"s":"PLA2","T":29.5,"E":34},{"s":"PLA2","T":34,"E":35},{"s":"PLA2","T":37.2,"E":35},{"s":"PLA2","T":41.4,"E":38},{"s":"PLA2","T":45.8,"E":40},{"s":"PLA2","T":51.2,"E":45},{"s":"PLA2","T":56.5,"E":54},{"s":"PLA2","T":60.9,"E":149},{"s":"PLA2","T":63.4,"E":394},{"s":"PLA2","T":68,"E":493},{"s":"PLA2","T":70.1,"E":194},{"s":"PLA2","T":72.3,"E":76},{"s":"PLA2","T":74.5,"E":29.5},{"s":"PLA2","T":77.3,"E":11.5},{"s":"PLA2","T":81.6,"E":4.5},{"s":"PLA2","T":86.8,"E":2.1},
{"s":"PLA3","T":20,"E":35},{"s":"PLA3","T":25,"E":36},{"s":"PLA3","T":30,"E":37},{"s":"PLA3","T":35,"E":39},{"s":"PLA3","T":40,"E":41},{"s":"PLA3","T":45,"E":44},{"s":"PLA3","T":50,"E":48},{"s":"PLA3","T":55,"E":53},{"s":"PLA3","T":60.5,"E":85},{"s":"PLA3","T":63.5,"E":200},{"s":"PLA3","T":73,"E":200},{"s":"PLA3","T":78.1,"E":19.4},{"s":"PLA3","T":81.4,"E":7.7},{"s":"PLA3","T":86.5,"E":3.0},
{"s":"PLA1- 20% All","T":20,"E":50},{"s":"PLA1- 20% All","T":25.5,"E":51},{"s":"PLA1- 20% All","T":30.8,"E":52},{"s":"PLA1- 20% All","T":36.3,"E":52},{"s":"PLA1- 20% All","T":41.5,"E":59},{"s":"PLA1- 20% All","T":46.8,"E":61},{"s":"PLA1- 20% All","T":52.2,"E":66},{"s":"PLA1- 20% All","T":57.5,"E":76},{"s":"PLA1- 20% All","T":62.7,"E":128},{"s":"PLA1- 20% All","T":65.2,"E":347},{"s":"PLA1- 20% All","T":69,"E":780},{"s":"PLA1- 20% All","T":72.5,"E":303},{"s":"PLA1- 20% All","T":75.2,"E":117},{"s":"PLA1- 20% All","T":78.1,"E":46},{"s":"PLA1- 20% All","T":82.5,"E":17.7},{"s":"PLA1- 20% All","T":87.9,"E":10.4},
{"s":"PLA2- 20% All","T":20,"E":47},{"s":"PLA2- 20% All","T":30,"E":50},{"s":"PLA2- 20% All","T":36,"E":52},{"s":"PLA2- 20% All","T":41,"E":57},{"s":"PLA2- 20% All","T":46,"E":60},{"s":"PLA2- 20% All","T":51.5,"E":64},{"s":"PLA2- 20% All","T":56.5,"E":73},{"s":"PLA2- 20% All","T":61.7,"E":118},{"s":"PLA2- 20% All","T":64.1,"E":352},{"s":"PLA2- 20% All","T":67.1,"E":896},{"s":"PLA2- 20% All","T":73.3,"E":138},{"s":"PLA2- 20% All","T":75.7,"E":54},{"s":"PLA2- 20% All","T":79.1,"E":21.4},{"s":"PLA2- 20% All","T":84,"E":8.5},{"s":"PLA2- 20% All","T":89.4,"E":5.06},
{"s":"PLA3- 20% All","T":20,"E":46},{"s":"PLA3- 20% All","T":23,"E":46.5},{"s":"PLA3- 20% All","T":27,"E":47.5},{"s":"PLA3- 20% All","T":31,"E":48},{"s":"PLA3- 20% All","T":35,"E":50},{"s":"PLA3- 20% All","T":39,"E":53},{"s":"PLA3- 20% All","T":44,"E":56},{"s":"PLA3- 20% All","T":48.5,"E":58},{"s":"PLA3- 20% All","T":53,"E":64},{"s":"PLA3- 20% All","T":57,"E":73},{"s":"PLA3- 20% All","T":60.5,"E":95},{"s":"PLA3- 20% All","T":62.5,"E":160},{"s":"PLA3- 20% All","T":66.5,"E":640},{"s":"PLA3- 20% All","T":69.9,"E":493},{"s":"PLA3- 20% All","T":74.4,"E":68},{"s":"PLA3- 20% All","T":77.7,"E":27.8},{"s":"PLA3- 20% All","T":82.9,"E":11.8},{"s":"PLA3- 20% All","T":88.7,"E":12.8},
{"s":"PLA1- 40% All","T":20,"E":73},{"s":"PLA1- 40% All","T":25.5,"E":74.5},{"s":"PLA1- 40% All","T":30.8,"E":76},{"s":"PLA1- 40% All","T":36.3,"E":78},{"s":"PLA1- 40% All","T":41.5,"E":83},{"s":"PLA1- 40% All","T":46.8,"E":90},{"s":"PLA1- 40% All","T":52.4,"E":97},{"s":"PLA1- 40% All","T":57.5,"E":112},{"s":"PLA1- 40% All","T":62.9,"E":180},{"s":"PLA1- 40% All","T":64.5,"E":299},{"s":"PLA1- 40% All","T":65.7,"E":448},{"s":"PLA1- 40% All","T":68.6,"E":1164},{"s":"PLA1- 40% All","T":72.9,"E":457},{"s":"PLA1- 40% All","T":75.4,"E":177},{"s":"PLA1- 40% All","T":78.1,"E":68},{"s":"PLA1- 40% All","T":82.1,"E":26.8},{"s":"PLA1- 40% All","T":87.5,"E":15.5},
{"s":"PLA2- 40% All","T":20,"E":72},{"s":"PLA2- 40% All","T":25,"E":74},{"s":"PLA2- 40% All","T":30,"E":76},{"s":"PLA2- 40% All","T":36,"E":77.5},{"s":"PLA2- 40% All","T":42,"E":80},{"s":"PLA2- 40% All","T":47,"E":85},{"s":"PLA2- 40% All","T":52,"E":90},{"s":"PLA2- 40% All","T":57.5,"E":105},{"s":"PLA2- 40% All","T":62.6,"E":327},{"s":"PLA2- 40% All","T":65,"E":831},{"s":"PLA2- 40% All","T":69.5,"E":860},{"s":"PLA2- 40% All","T":81.4,"E":17.7},{"s":"PLA2- 40% All","T":86.8,"E":8.9}
]
},
"hconcat": [
{
  "width": 562, "height": 405,
  "view": {"stroke": null},
  "title": {"text": "(a)", "orient": "bottom", "anchor": "middle", "frame": "bounds", "font": "Liberation Serif", "fontSize": 20, "fontWeight": "bold", "offset": 9, "color": "#000"},
  "layer": [
    {"data": {"values": [{}]}, "mark": {"type": "rect", "filled": false, "stroke": "#000", "strokeWidth": 2.5, "clip": false},
     "encoding": {"x": {"datum": -41.9, "type": "quantitative", "scale": {"domain": [-20, 140], "nice": false}}, "x2": {"datum": 148.5},
                  "y": {"datum": 8399, "type": "quantitative", "scale": {"domain": [0, 8000], "nice": false, "range": [405, 4]}}, "y2": {"datum": -958}}},
    {"data": {"values": [{}]}, "mark": {"type": "rect", "filled": false, "stroke": "#8a8a8a", "strokeWidth": 1},
     "encoding": {"x": {"datum": -20, "type": "quantitative", "scale": {"domain": [-20, 140], "nice": false}}, "x2": {"datum": 140},
                  "y": {"datum": 8000, "type": "quantitative", "scale": {"domain": [0, 8000], "nice": false, "range": [405, 4]}}, "y2": {"datum": 0}}},
    {"data": {"name": "L"}, "mark": {"type": "line", "interpolate": "monotone", "strokeWidth": 1.3},
     "encoding": {
       "x": {"field": "T", "type": "quantitative", "scale": {"domain": [-20, 140], "nice": false},
             "axis": {"values": [-20,-15,-10,-5,0,5,10,15,20,25,30,35,40,45,50,55,60,65,70,75,80,85,90,95,100,105,110,115,120,125,130,135,140], "labelExpr": "datum.value % 20 == 0 ? '' + datum.value : ''", "title": "Temperature (°C)", "titleFontSize": 16, "labelFontSize": 12, "tickSize": 4, "labelPadding": 3, "titlePadding": 4}},
       "y": {"field": "E", "type": "quantitative", "scale": {"domain": [0, 8000], "nice": false, "range": [405, 4]},
             "axis": {"values": [0,500,1000,1500,2000,2500,3000,3500,4000,4500,5000,5500,6000,6500,7000,7500,8000], "labelExpr": "datum.value % 2000 == 0 ? '' + datum.value : ''", "title": "Storage Modulus (MPa)", "titleFontSize": 15, "labelFontSize": 12, "tickSize": 4, "labelPadding": 3, "titlePadding": 11}},
       "color": {"field": "s", "type": "nominal", "legend": null,
                 "scale": {"domain": ["PLA3-40% All","PLA2-40% All","PLA1-40% All","PLA3-20% All","PLA2-20% All","PLA1-20% All","PLA3","PLA2","PLA1"],
                           "range": ["#1c1c8c","#1c1c8c","#1c1c8c","#f01e1e","#f01e1e","#f01e1e","#1a8c1a","#1a8c1a","#1a8c1a"]}}
     }},
    {"data": {"name": "LM"}, "mark": {"type": "point", "size": 55, "strokeWidth": 1.7, "opacity": 1},
     "encoding": {
       "x": {"field": "T", "type": "quantitative", "scale": {"domain": [-20, 140], "nice": false}},
       "y": {"field": "E", "type": "quantitative", "scale": {"domain": [0, 8000], "nice": false, "range": [405, 4]}},
       "shape": {"field": "s", "type": "nominal",
                 "scale": {"domain": ["PLA1","PLA2","PLA3","PLA1-20% All","PLA2-20% All","PLA3-20% All","PLA1-40% All","PLA2-40% All","PLA3-40% All"],
                           "range": ["circle","square","M0,-1L0.22,-0.22L1,0L0.22,0.22L0,1L-0.22,0.22L-1,0L-0.22,-0.22Z","circle","square","M0,-1L0.3,-0.3L1,0L0.3,0.3L0,1L-0.3,0.3L-1,0L-0.3,-0.3Z","circle","M0,-1L0.29,-0.5L0.87,-0.5L0.58,0L0.87,0.5L0.29,0.5L0,1L-0.29,0.5L-0.87,0.5L-0.58,0L-0.87,-0.5L-0.29,-0.5Z","circle"]},
                 "legend": {"orient": "none", "legendX": 378, "legendY": 34.5, "title": null, "labelFontSize": 13, "symbolSize": 60, "symbolStrokeWidth": 1.7, "rowPadding": 1.8, "labelOffset": 5, "encode": {"labels": {"update": {"fill": {"signal": "indexof(datum.value, '40%') >= 0 ? '#1c1c8c' : indexof(datum.value, '20%') >= 0 ? '#f01e1e' : '#1a8c1a'"}}}}}},
       "fill": {"field": "s", "type": "nominal",
                "scale": {"domain": ["PLA1","PLA2","PLA3","PLA1-20% All","PLA2-20% All","PLA3-20% All","PLA1-40% All","PLA2-40% All","PLA3-40% All"],
                          "range": ["#1a8c1a","transparent","#1a8c1a","transparent","#f01e1e","transparent","#1c1c8c","#1c1c8c","transparent"]},
                "legend": {"orient": "none", "legendX": 378, "legendY": 34.5, "title": null, "labelFontSize": 13, "symbolSize": 60, "symbolStrokeWidth": 1.7, "rowPadding": 1.8, "labelOffset": 5, "encode": {"labels": {"update": {"fill": {"signal": "indexof(datum.value, '40%') >= 0 ? '#1c1c8c' : indexof(datum.value, '20%') >= 0 ? '#f01e1e' : '#1a8c1a'"}}}}}},
       "stroke": {"field": "s", "type": "nominal",
                  "scale": {"domain": ["PLA1","PLA2","PLA3","PLA1-20% All","PLA2-20% All","PLA3-20% All","PLA1-40% All","PLA2-40% All","PLA3-40% All"],
                            "range": ["#1a8c1a","#1a8c1a","#1a8c1a","#f01e1e","#f01e1e","#f01e1e","#1c1c8c","#1c1c8c","#1c1c8c"]},
                  "legend": {"orient": "none", "legendX": 378, "legendY": 34.5, "title": null, "labelFontSize": 13, "symbolSize": 60, "symbolStrokeWidth": 1.7, "rowPadding": 1.8, "labelOffset": 5, "encode": {"labels": {"update": {"fill": {"signal": "indexof(datum.value, '40%') >= 0 ? '#1c1c8c' : indexof(datum.value, '20%') >= 0 ? '#f01e1e' : '#1a8c1a'"}}}}}}
     }},
    {"data": {"name": "L"}, "transform": [{"filter": "datum.s == 'PLA3-40% All'"}], "mark": {"type": "point", "size": 40, "strokeWidth": 1.2, "opacity": 1, "filled": false, "color": "#1c1c8c"},
     "encoding": {
       "x": {"field": "T", "type": "quantitative", "scale": {"domain": [-20, 140], "nice": false}},
       "y": {"field": "E", "type": "quantitative", "scale": {"domain": [0, 8000], "nice": false, "range": [405, 4]}}
     }},
    {"data": {"values": [{"t": "40% All", "T": 10.95, "E": 7202}, {"t": "20% All", "T": 11.3, "E": 5253}, {"t": "0% All", "T": 10.5, "E": 3226}]},
     "mark": {"type": "text", "fontSize": 15, "color": "#222", "align": "center", "baseline": "middle"},
     "encoding": {"x": {"field": "T", "type": "quantitative", "scale": {"domain": [-20, 140], "nice": false}}, "y": {"field": "E", "type": "quantitative", "scale": {"domain": [0, 8000], "nice": false, "range": [405, 4]}}, "text": {"field": "t"}}},
    {"data": {"values": [{}]}, "mark": {"type": "text", "fontSize": 11, "color": "#222", "align": "center", "baseline": "middle"},
     "encoding": {"x": {"datum": 19.1, "type": "quantitative", "scale": {"domain": [-20, 140], "nice": false}}, "y": {"datum": 1702, "type": "quantitative", "scale": {"domain": [0, 8000], "nice": false, "range": [405, 4]}}, "text": {"value": "(rate of heating, 3°C/min)"}}},
    {"data": {"values": [{}]}, "mark": {"type": "text", "fontSize": 15, "color": "#1c1c8c", "align": "center", "baseline": "middle"},
     "encoding": {"x": {"datum": 99.6, "type": "quantitative", "scale": {"domain": [-20, 140], "nice": false}}, "y": {"datum": 2448, "type": "quantitative", "scale": {"domain": [0, 8000], "nice": false, "range": [405, 4]}}, "text": {"value": "PLA3- 40% All"}}},
    {"data": {"values": [{}]}, "mark": {"type": "text", "fontSize": 11, "color": "#333", "align": "left", "baseline": "middle", "clip": false},
     "encoding": {"x": {"datum": 109.3, "type": "quantitative", "scale": {"domain": [-20, 140], "nice": false}}, "y": {"datum": -599, "type": "quantitative", "scale": {"domain": [0, 8000], "nice": false, "range": [405, 4]}}, "text": {"value": "Universal V3.9A TA Instr"}}},
    {"data": {"values": [{}]}, "mark": {"type": "rule", "color": "#1c1c8c", "strokeWidth": 1.2},
     "encoding": {"x": {"datum": 83.9, "type": "quantitative", "scale": {"domain": [-20, 140], "nice": false}}, "y": {"datum": 2354, "type": "quantitative", "scale": {"domain": [0, 8000], "nice": false, "range": [405, 4]}}, "x2": {"datum": 75.9}, "y2": {"datum": 1383}}},
    {"data": {"values": [{}]}, "mark": {"type": "point", "shape": "M-0.55,1L0,0L0.55,1", "filled": false, "color": "#1c1c8c", "strokeWidth": 1.2, "size": 90, "angle": 210, "opacity": 1},
     "encoding": {"x": {"datum": 75.9, "type": "quantitative", "scale": {"domain": [-20, 140], "nice": false}}, "y": {"datum": 1383, "type": "quantitative", "scale": {"domain": [0, 8000], "nice": false, "range": [405, 4]}}}}
  ]
},
{
  "width": 577, "height": 411,
  "title": {"text": "(b)", "orient": "bottom", "anchor": "middle", "frame": "bounds", "font": "Liberation Serif", "fontSize": 20, "fontWeight": "bold", "offset": 9, "color": "#000"},
  "layer": [
    {"data": {"values": [{}]}, "mark": {"type": "rect", "filled": false, "stroke": "#000", "strokeWidth": 2.5, "clip": false},
     "encoding": {"x": {"datum": 10.63, "type": "quantitative", "scale": {"domain": [20, 90], "nice": false}}, "x2": {"datum": 92.6},
                  "y": {"datum": 14770, "type": "quantitative", "scale": {"type": "log", "domain": [1, 10000], "nice": false}}, "y2": {"datum": 0.373}}},
    {"data": {"name": "R"}, "mark": {"type": "line", "interpolate": "monotone", "strokeWidth": 1.5},
     "encoding": {
       "x": {"field": "T", "type": "quantitative", "scale": {"domain": [20, 90], "nice": false},
             "axis": {"values": [20,25,30,35,40,45,50,55,60,65,70,75,80,85,90], "labelExpr": "datum.value % 10 == 0 ? '' + datum.value : ''", "title": "Temperature (°C)", "titleFontSize": 17, "labelFontSize": 12.5, "tickSize": 4, "labelPadding": 2, "titlePadding": 6}},
       "y": {"field": "E", "type": "quantitative", "scale": {"type": "log", "domain": [1, 10000], "nice": false},
             "axis": {"values": [1,2,3,4,5,6,7,8,9,10,20,30,40,50,60,70,80,90,100,200,300,400,500,600,700,800,900,1000,2000,3000,4000,5000,6000,7000,8000,9000,10000], "labelExpr": "indexof([1,10,100,1000,10000], datum.value) >= 0 ? '' + datum.value : ''", "title": "Loss Modulus (MPa)", "titleFontSize": 16, "labelFontSize": 12, "tickSize": 3, "labelPadding": 3, "titlePadding": 8}},
       "color": {"field": "s", "type": "nominal", "legend": null,
                 "scale": {"domain": ["PLA3- 40% All","PLA2- 40% All","PLA1- 40% All","PLA3- 20% All","PLA2- 20% All","PLA1- 20% All","PLA3","PLA2","PLA1"],
                           "range": ["#1c1c8c","#1c1c8c","#1c1c8c","#f01e1e","#f01e1e","#f01e1e","#1a8c1a","#1a8c1a","#1a8c1a"]}},
       "strokeDash": {"field": "s", "type": "nominal", "legend": null,
                      "scale": {"domain": ["PLA3- 40% All","PLA2- 40% All","PLA1- 40% All","PLA3- 20% All","PLA2- 20% All","PLA1- 20% All","PLA3","PLA2","PLA1"],
                                "range": [[1,0],[1,0],[12,5],[1,0],[10,4],[10,3,2,3],[10,3,2,3],[6,4],[1,0]]}}
     }},
    {"data": {"name": "RM"}, "mark": {"type": "point", "size": 50, "strokeWidth": 1.7, "opacity": 1},
     "encoding": {
       "x": {"field": "T", "type": "quantitative", "scale": {"domain": [20, 90], "nice": false}},
       "y": {"field": "E", "type": "quantitative", "scale": {"type": "log", "domain": [1, 10000], "nice": false}},
       "shape": {"field": "s", "type": "nominal",
                 "scale": {"domain": ["PLA1","PLA2","PLA3","PLA1- 20% All","PLA2- 20% All","PLA3- 20% All","PLA1- 40% All","PLA2- 40% All","PLA3- 40% All"],
                           "range": ["circle","square","M0,-1L0.22,-0.22L1,0L0.22,0.22L0,1L-0.22,0.22L-1,0L-0.22,-0.22Z","circle","square","M0,-1L0.3,-0.3L1,0L0.3,0.3L0,1L-0.3,0.3L-1,0L-0.3,-0.3Z","circle","M0,-1L0.29,-0.5L0.87,-0.5L0.58,0L0.87,0.5L0.29,0.5L0,1L-0.29,0.5L-0.87,0.5L-0.58,0L-0.87,-0.5L-0.29,-0.5Z","circle"]},
                 "legend": {"orient": "none", "legendX": 15, "legendY": 21.5, "title": null, "labelFontSize": 15.5, "symbolSize": 70, "symbolStrokeWidth": 1.8, "rowPadding": 1.3, "labelOffset": 5, "encode": {"labels": {"update": {"fill": {"signal": "indexof(datum.value, '40%') >= 0 ? '#1c1c8c' : indexof(datum.value, '20%') >= 0 ? '#f01e1e' : '#1a8c1a'"}}}}}},
       "fill": {"field": "s", "type": "nominal",
                "scale": {"domain": ["PLA1","PLA2","PLA3","PLA1- 20% All","PLA2- 20% All","PLA3- 20% All","PLA1- 40% All","PLA2- 40% All","PLA3- 40% All"],
                          "range": ["#1a8c1a","transparent","#1a8c1a","transparent","#f01e1e","transparent","#1c1c8c","#1c1c8c","transparent"]},
                "legend": {"orient": "none", "legendX": 15, "legendY": 21.5, "title": null, "labelFontSize": 15.5, "symbolSize": 70, "symbolStrokeWidth": 1.8, "rowPadding": 1.3, "labelOffset": 5, "encode": {"labels": {"update": {"fill": {"signal": "indexof(datum.value, '40%') >= 0 ? '#1c1c8c' : indexof(datum.value, '20%') >= 0 ? '#f01e1e' : '#1a8c1a'"}}}}}},
       "stroke": {"field": "s", "type": "nominal",
                  "scale": {"domain": ["PLA1","PLA2","PLA3","PLA1- 20% All","PLA2- 20% All","PLA3- 20% All","PLA1- 40% All","PLA2- 40% All","PLA3- 40% All"],
                            "range": ["#1a8c1a","#1a8c1a","#1a8c1a","#f01e1e","#f01e1e","#f01e1e","#1c1c8c","#1c1c8c","#1c1c8c"]},
                  "legend": {"orient": "none", "legendX": 15, "legendY": 21.5, "title": null, "labelFontSize": 15.5, "symbolSize": 70, "symbolStrokeWidth": 1.8, "rowPadding": 1.3, "labelOffset": 5, "encode": {"labels": {"update": {"fill": {"signal": "indexof(datum.value, '40%') >= 0 ? '#1c1c8c' : indexof(datum.value, '20%') >= 0 ? '#f01e1e' : '#1a8c1a'"}}}}}}
     }},
    {"data": {"name": "R"}, "transform": [{"filter": "datum.s == 'PLA3- 40% All'"}], "mark": {"type": "point", "size": 40, "strokeWidth": 1.2, "opacity": 1, "filled": false, "color": "#1c1c8c"},
     "encoding": {
       "x": {"field": "T", "type": "quantitative", "scale": {"domain": [20, 90], "nice": false}},
       "y": {"field": "E", "type": "quantitative", "scale": {"type": "log", "domain": [1, 10000], "nice": false}}
     }},
    {"data": {"values": [{}]}, "mark": {"type": "text", "fontSize": 16, "color": "#1c1c8c", "align": "center", "baseline": "middle"},
     "encoding": {"x": {"datum": 81.26, "type": "quantitative", "scale": {"domain": [20, 90], "nice": false}}, "y": {"datum": 604, "type": "quantitative", "scale": {"type": "log", "domain": [1, 10000], "nice": false}}, "text": {"value": "PLA3- 40% All"}}},
    {"data": {"values": [{}]}, "mark": {"type": "text", "fontSize": 9, "color": "#333", "align": "left", "baseline": "middle", "clip": false},
     "encoding": {"x": {"datum": 81.9, "type": "quantitative", "scale": {"domain": [20, 90], "nice": false}}, "y": {"datum": 0.507, "type": "quantitative", "scale": {"type": "log", "domain": [1, 10000], "nice": false}}, "text": {"value": "Universal V3.9A TA In"}}},
    {"data": {"values": [{}]}, "mark": {"type": "rule", "color": "#1c1c8c", "strokeWidth": 1.3},
     "encoding": {"x": {"datum": 81.06, "type": "quantitative", "scale": {"domain": [20, 90], "nice": false}}, "y": {"datum": 493, "type": "quantitative", "scale": {"type": "log", "domain": [1, 10000], "nice": false}}, "x2": {"datum": 80.23}, "y2": {"datum": 225}}},
    {"data": {"values": [{}]}, "mark": {"type": "point", "shape": "M-0.55,1L0,0L0.55,1", "filled": false, "color": "#1c1c8c", "strokeWidth": 1.3, "size": 90, "angle": 191, "opacity": 1},
     "encoding": {"x": {"datum": 80.23, "type": "quantitative", "scale": {"domain": [20, 90], "nice": false}}, "y": {"datum": 225, "type": "quantitative", "scale": {"type": "log", "domain": [1, 10000], "nice": false}}}}
  ]
}
],
"resolve": {
  "scale": {"x": "independent", "y": "independent", "color": "independent", "fill": "independent", "stroke": "independent", "shape": "independent", "strokeDash": "independent"},
  "legend": {"color": "independent", "fill": "independent", "stroke": "independent", "shape": "independent", "strokeDash": "independent"}
}
}
